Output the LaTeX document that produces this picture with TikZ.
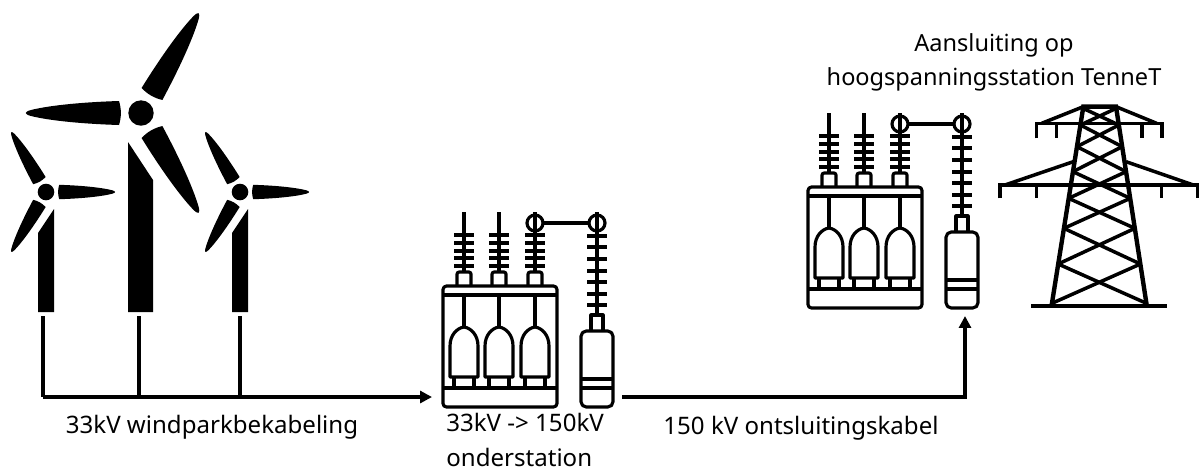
\documentclass[tikz,border=0pt]{standalone}
\usepackage{fontspec}
\setmainfont{Noto Sans}
\usetikzlibrary{arrows.meta}
\tikzset{
	label/.style={inner sep=0pt, font=\fontsize{13.7pt}{19.6pt}\selectfont},
	cable/.style={line width=2.5pt},
	feeder/.style={line width=2.2pt, line cap=square},
	icon/.style={line width=1.8pt, line join=round},
	steel/.style={line width=2.5pt},
	brace/.style={line width=2pt},
	blade/.pic={
		\fill (22,12) .. controls (55,11) and (90,8) .. (110,3)
			.. controls (117,1) and (117,-1) .. (110,-3)
			.. controls (90,-8) and (55,-11) .. (22,-12)
			.. controls (19.5,-4) and (19.5,4) .. (22,12) -- cycle;
	},
	substation/.pic={
		% transformer tank
		\draw[icon, rounded corners=2pt] (0,121) -- (0,0) -- (114,0) -- (114,121) -- cycle;
		\draw[icon] (0,9) -- (114,9);
		\draw[icon] (0,102) -- (114,102);
		\foreach \x in {21,56,92} {
			\draw[icon] (\x,-74) -- (\x,-14);
			\foreach \y in {-51,-43,-35,-28,-20} \draw[icon] (\x-10,\y) -- (\x+10,\y);
			\draw[icon, rounded corners=1.2pt] (\x-7,0) -- (\x-7,-14) -- (\x+7,-14) -- (\x+7,0);
			\draw[icon] (\x,9) -- (\x,41);
			\draw[icon] (\x-14,91) -- (\x-14,60) .. controls (\x-14,49) and (\x-7,42) .. (\x,41)
				.. controls (\x+7,42) and (\x+14,49) .. (\x+14,60) -- (\x+14,91) -- cycle;
			\draw[icon] (\x-10,91) -- (\x-10,102);
			\draw[icon] (\x+10,91) -- (\x+10,102);
		}
		% bushing with link
		\draw[icon] (92,-63) circle[radius=8];
		\draw[icon] (154,-63) circle[radius=8];
		\draw[icon] (100,-63) -- (146,-63);
		\draw[icon] (154,-74) -- (154,29);
		\foreach \y in {-50,-39,-27,-15,-4,8,19} \draw[icon] (144,\y) -- (164,\y);
		\draw[icon] (148,45) -- (148,29) -- (160,29) -- (160,45);
		\draw[icon, rounded corners=3pt] (138,121) -- (138,45) -- (170,45) -- (170,121) -- cycle;
		\draw[icon] (138,93) -- (170,93);
		\draw[icon] (138,102) -- (170,102);
	},
	pylon/.pic={
		\draw[steel] (123,648) -- (532,648);
		\draw[steel] (185,645) -- (280,50) -- (378,50) -- (470,645);
		\draw[brace] (140,145) -- (140,100) -- (516,100) -- (516,145);
		\draw[brace] (155,100) -- (280,50);
		\draw[brace] (500,100) -- (378,50);
		\foreach \x in {200,456} \draw[brace] (\x,100) -- (\x,145);
		\draw[brace] (30,325) -- (30,285) -- (622,285) -- (622,325);
		\draw[brace] (45,285) -- (250,215);
		\draw[brace] (610,285) -- (408,215);
		\foreach \x in {140,514} \draw[brace] (\x,285) -- (\x,325);
		% lattice
		\foreach \a/\b in {55/105,105/170,170/245,245/325,325/415,415/522,522/640} {
			\draw[brace] ({280-0.16*(\a-50)},\a) -- ({378+0.155*(\b-50)},\b);
			\draw[brace] ({378+0.155*(\a-50)},\a) -- ({280-0.16*(\b-50)},\b);
		}
	},
}
\begin{document}
\begin{tikzpicture}[x=0.02cm, y=-0.02cm]
\useasboundingbox (0,0) rectangle (1202,471);
% big turbine
\fill (128,142) -- (153,180) -- (153,312) -- (128,312) -- cycle;
\fill (141,113) circle[radius=12.7];
\foreach \r in {180,60,-60} \pic[rotate=\r] at (141,113) {blade};
% small turbines
\foreach \x in {46,240} {
	\fill (\x+8,209) -- (\x-8,233) -- (\x-8,312) -- (\x+8,312) -- cycle;
	\fill (\x,192) circle[radius=8.3];
	\foreach \r in {0,120,-120} \pic[rotate=\r, scale=0.6] at (\x,192) {blade};
}
\pic (station) at (443,286) {substation};
\pic (grid) at (808,187) {substation};
\pic[scale=1/3] (mast) at (990,90) {pylon};
\coordinate (turbineA) at (43,316);
\coordinate (turbineB) at (139,316);
\coordinate (turbineC) at (240,316);
\coordinate (busA) at (43,397);
\coordinate (busB) at (139,397);
\coordinate (busC) at (240,397);
\coordinate (stationIn) at (432,397);
\coordinate (stationOut) at (622,397);
\coordinate (corner) at (965,397);
\coordinate (gridIn) at (965,316);
\foreach \t/\b in {turbineA/busA,turbineB/busB,turbineC/busC} \draw[feeder] (\t) -- (\b);
\draw[cable, -{Triangle[length=6.8pt,width=6.8pt]}] (busA) -- (stationIn);
\draw[cable, -{Triangle[length=6.8pt,width=6.8pt]}] (stationOut) -- (corner) -- (gridIn);
\node[label] (windLabel) at (212,427) {33kV windparkbekabeling};
\node[label, align=left, anchor=north west] (stationLabel) at (446,413) {33kV -> 150kV\\onderstation};
\node[label] (exportLabel) at (801,428) {150 kV ontsluitingskabel};
\node[label, align=center, font=\fontsize{13.4pt}{19.4pt}\selectfont] (gridLabel) at (994,62) {Aansluiting op\\hoogspanningsstation TenneT};
\end{tikzpicture}
\end{document}
